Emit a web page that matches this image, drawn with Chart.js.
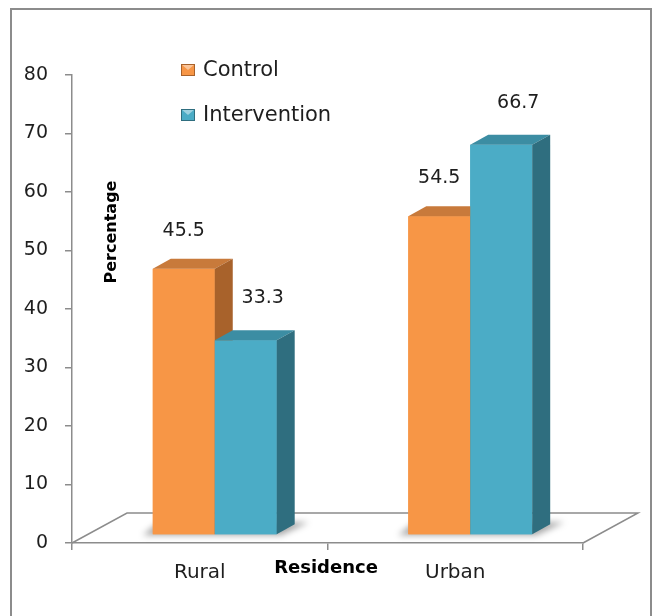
<!DOCTYPE html>
<html>
<head>
<meta charset="utf-8">
<title>Residence</title>
<script src="https://cdn.jsdelivr.net/npm/chart.js@4.4.1/dist/chart.umd.min.js"></script>
<style>
  html, body { margin: 0; padding: 0; background: #fff; }
  canvas { display: block; }
</style>
</head>
<body>
<canvas id="grafico" width="655" height="616"></canvas>
<script>
// --- Datos ------------------------------------------------------------------
const categorias = ['Rural', 'Urban'];
const series = ['Control', 'Intervention'];
const control = [45.5, 54.5];
const intervencion = [33.3, 66.7];
const yMin = 0, yMax = 80, yPaso = 10;
const tituloX = 'Residence';
const tituloY = 'Percentage';

// --- Estilo -----------------------------------------------------------------
const GRIS = '#8c8c8c';
const TEXTO = '#1e1e1e';
const FUENTE = "'DejaVu Sans', sans-serif";
const COLORES = [
  { frente: '#F79646', lado: '#A8622B', tapa: '#C87A3B' },  // Control
  { frente: '#4BACC6', lado: '#2F6E7F', tapa: '#3C8DA3' },  // Intervention
];
const PISO = { dx: 55, dy: 30 };  // fondo del "piso" 3D
const PROF = { dx: 18, dy: 10 };  // profundidad de cada barra
const DESPL = { dx: 15, dy: 8 };  // las barras se asientan a media profundidad del piso
// Desplazamiento de las etiquetas de valor respecto a la cara frontal, por serie.
const ETIQ = [{ dx: 0, dy: 38 }, { dx: 17, dy: 42 }];

// Barras con caras laterales y tapa, dibujadas desde los elementos de Chart.js.
const barras3d = {
  id: 'barras3d',
  beforeDraw(chart) {
    const { ctx } = chart;
    ctx.save();
    ctx.strokeStyle = GRIS;
    ctx.lineWidth = 2;
    ctx.strokeRect(11, 9, 640, 640);
    ctx.restore();
  },
  beforeDatasetsDraw(chart) {
    const { ctx, chartArea: a } = chart;
    // Piso en perspectiva
    ctx.save();
    ctx.beginPath();
    ctx.moveTo(a.left, a.bottom);
    ctx.lineTo(a.left + PISO.dx, a.bottom - PISO.dy);
    ctx.lineTo(a.right + PISO.dx, a.bottom - PISO.dy);
    ctx.lineTo(a.right, a.bottom);
    ctx.strokeStyle = GRIS;
    ctx.lineWidth = 1.5;
    ctx.stroke();
    ctx.restore();

    ctx.save();
    ctx.translate(DESPL.dx, -DESPL.dy);

    // Sombra suave bajo cada grupo de barras
    const metas = series.map((_, i) => chart.getDatasetMeta(i));
    categorias.forEach((_, j) => {
      const els = metas.map((m) => m.data[j]);
      const izq = Math.min(...els.map((e) => e.x - e.width / 2));
      const der = Math.max(...els.map((e) => e.x + e.width / 2));
      const base = els[0].base;
      ctx.save();
      ctx.filter = 'blur(3px)';
      ctx.fillStyle = 'rgba(0,0,0,0.35)';
      ctx.beginPath();
      ctx.moveTo(izq - 10, base + 1);
      ctx.lineTo(der + 4, base + 1);
      ctx.lineTo(der + PROF.dx + 14, base - PROF.dy - 2);
      ctx.lineTo(izq + 6, base - PROF.dy - 2);
      ctx.closePath();
      ctx.fill();
      ctx.restore();
    });
  },
  afterDatasetsDraw(chart) {
    const { ctx } = chart;
    // Se redibuja serie por serie para que la cara frontal de "Intervention"
    // tape el lado de "Control".
    series.forEach((_, i) => {
      const meta = chart.getDatasetMeta(i);
      const c = COLORES[i];
      meta.data.forEach((el) => {
        const { x, y, base, width } = el.getProps(['x', 'y', 'base', 'width'], true);
        const izq = x - width / 2, der = x + width / 2;
        el.draw(ctx);
        ctx.fillStyle = c.tapa;
        ctx.beginPath();
        ctx.moveTo(izq, y);
        ctx.lineTo(izq + PROF.dx, y - PROF.dy);
        ctx.lineTo(der + PROF.dx, y - PROF.dy);
        ctx.lineTo(der, y);
        ctx.closePath();
        ctx.fill();
        ctx.fillStyle = c.lado;
        ctx.beginPath();
        ctx.moveTo(der, y);
        ctx.lineTo(der + PROF.dx, y - PROF.dy);
        ctx.lineTo(der + PROF.dx, base - PROF.dy);
        ctx.lineTo(der, base);
        ctx.closePath();
        ctx.fill();
      });
    });

    // Etiquetas de valor
    ctx.font = `19px ${FUENTE}`;
    ctx.fillStyle = TEXTO;
    ctx.textAlign = 'center';
    ctx.textBaseline = 'middle';
    series.forEach((_, i) => {
      const meta = chart.getDatasetMeta(i);
      const datos = chart.data.datasets[i].data;
      meta.data.forEach((el, j) => {
        ctx.fillText(datos[j].toFixed(1), el.x + ETIQ[i].dx, el.y - ETIQ[i].dy);
      });
    });
    ctx.restore();
  },
  afterDraw(chart) {
    const { ctx } = chart;
    ctx.save();
    // Leyenda
    ctx.font = `21px ${FUENTE}`;
    ctx.textAlign = 'left';
    ctx.textBaseline = 'middle';
    const filasY = [70, 115];
    chart.data.datasets.forEach((ds, i) => {
      const c = COLORES[i];
      const y = filasY[i];
      ctx.fillStyle = c.frente;
      ctx.fillRect(181, y - 6, 14, 12);
      ctx.fillStyle = 'rgba(255,255,255,0.45)';
      ctx.beginPath();
      ctx.moveTo(181, y - 6);
      ctx.lineTo(195, y - 6);
      ctx.lineTo(188, y);
      ctx.closePath();
      ctx.fill();
      ctx.strokeStyle = c.lado;
      ctx.lineWidth = 1;
      ctx.strokeRect(181.5, y - 5.5, 13, 11);
      ctx.fillStyle = TEXTO;
      ctx.fillText(ds.label, 203, y + 1);
    });

    // Títulos de ejes
    ctx.fillStyle = '#000';
    ctx.textAlign = 'center';
    ctx.font = `bold 18px ${FUENTE}`;
    ctx.fillText(tituloX, 326, 568);
    ctx.translate(112, 232);
    ctx.rotate(-Math.PI / 2);
    ctx.font = `bold 16px ${FUENTE}`;
    ctx.fillText(tituloY, 0, 0);
    ctx.restore();
  },
};

const ejeGrid = { drawOnChartArea: false, drawTicks: true, tickLength: 7, color: GRIS, lineWidth: 1.5 };

new Chart(document.getElementById('grafico'), {
  type: 'bar',
  data: {
    labels: categorias,
    datasets: [
      { label: series[0], data: control, backgroundColor: COLORES[0].frente },
      { label: series[1], data: intervencion, backgroundColor: COLORES[1].frente },
    ],
  },
  options: {
    responsive: false,
    animation: false,
    categoryPercentage: 0.485,
    barPercentage: 1,
    layout: { padding: { top: 75, right: 72, left: 0, bottom: 0 } },
    plugins: { legend: { display: false }, tooltip: { enabled: false } },
    scales: {
      x: {
        grid: ejeGrid,
        border: { color: GRIS, width: 1.5 },
        ticks: { font: { family: FUENTE, size: 20 }, color: TEXTO, padding: 11 },
        afterFit: (s) => { s.height = 73; },
      },
      y: {
        min: yMin, max: yMax,
        grid: ejeGrid,
        border: { color: GRIS, width: 1.5 },
        ticks: { stepSize: yPaso, font: { family: FUENTE, size: 19 }, color: TEXTO, padding: 17 },
        afterFit: (s) => { s.width = 72; },
      },
    },
  },
  plugins: [barras3d],
});
</script>
</body>
</html>
